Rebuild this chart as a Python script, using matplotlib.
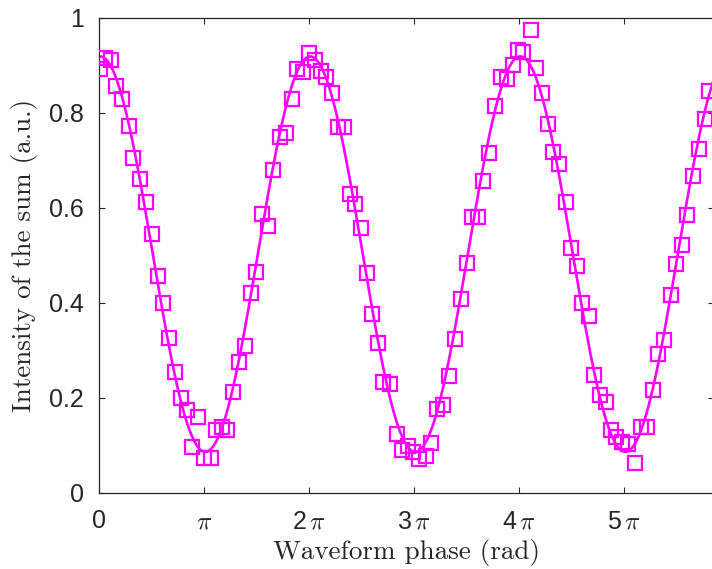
import numpy as np
import matplotlib
matplotlib.use("Agg")
import matplotlib.pyplot as plt

plt.rcParams['mathtext.fontset'] = 'cm'
plt.rcParams['font.family'] = ['Liberation Sans', 'DejaVu Sans']

# measured phase (rad) and intensity
phase = [0.021, 0.156, 0.350, 0.500, 0.688, 0.889, 1.017, 1.218, 1.388, 1.568,
         1.747, 1.915, 2.085, 2.265, 2.444, 2.615, 2.783, 2.962, 3.133, 3.333,
         3.492, 3.662, 3.812, 4.009, 4.180, 4.359, 4.530, 4.680, 4.868, 5.039,
         5.206, 5.407, 5.577, 5.757, 5.906, 6.104, 6.274, 6.454, 6.624, 6.783,
         6.953, 7.151, 7.321, 7.501, 7.651, 7.830, 8.019, 8.168, 8.348, 8.497,
         8.698, 8.898, 9.048, 9.245, 9.395, 9.566, 9.766, 9.916, 10.095, 10.293,
         10.463, 10.643, 10.813, 10.993, 11.142, 11.322, 11.489, 11.669, 11.839, 12.019,
         12.189, 12.369, 12.537, 12.686, 12.908, 13.057, 13.237, 13.416, 13.566, 13.763,
         13.955, 14.104, 14.284, 14.451, 14.652, 14.811, 14.981, 15.161, 15.310, 15.469,
         15.630, 15.810, 16.028, 16.199, 16.396, 16.558, 16.725, 16.905, 17.096, 17.255,
         17.444, 17.575, 17.773, 17.952, 18.123, 18.252]
intensity = [0.891, 0.915, 0.910, 0.856, 0.828, 0.772, 0.704, 0.660, 0.611, 0.545,
             0.457, 0.400, 0.325, 0.255, 0.200, 0.173, 0.096, 0.160, 0.072, 0.072,
             0.132, 0.139, 0.132, 0.211, 0.275, 0.309, 0.420, 0.465, 0.586, 0.561,
             0.679, 0.748, 0.757, 0.828, 0.891, 0.885, 0.925, 0.911, 0.888, 0.874,
             0.842, 0.769, 0.769, 0.629, 0.608, 0.558, 0.463, 0.376, 0.315, 0.234,
             0.228, 0.124, 0.090, 0.099, 0.086, 0.070, 0.078, 0.105, 0.176, 0.185,
             0.246, 0.324, 0.407, 0.483, 0.580, 0.581, 0.656, 0.715, 0.813, 0.874,
             0.870, 0.900, 0.931, 0.927, 0.973, 0.893, 0.842, 0.776, 0.717, 0.692,
             0.611, 0.514, 0.477, 0.400, 0.372, 0.248, 0.206, 0.190, 0.132, 0.118,
             0.106, 0.102, 0.062, 0.139, 0.138, 0.216, 0.292, 0.321, 0.416, 0.481,
             0.521, 0.585, 0.667, 0.724, 0.787, 0.846]

# cosine fit parameters
fit_offset = 0.502
fit_amplitude = 0.416
fit_phase = 0.03

xticks = [0, np.pi, 2*np.pi, 3*np.pi, 4*np.pi, 5*np.pi]
xticklabels = ['0', r'$\pi$', r'2$\,\pi$', r'3$\,\pi$', r'4$\,\pi$', r'5$\,\pi$']
yticks = [0, 0.2, 0.4, 0.6, 0.8, 1.0]
yticklabels = ['0', '0.2', '0.4', '0.6', '0.8', '1']

W, H = 712, 569
fig = plt.figure(figsize=(W/100, H/100), dpi=100)
x0, x1 = 99.3, 714.0
y0, y1 = 492.7, 17.5
ax = fig.add_axes([x0/W, 1 - y0/H, (x1-x0)/W, (y0-y1)/H])

xmax = (x1 - x0) / 105.0 * np.pi
xf = np.linspace(0, xmax, 800)
ax.plot(xf, fit_offset + fit_amplitude*np.cos(xf - fit_phase), color='#FF00FF', lw=1.9, zorder=2)
ax.plot(phase, intensity, linestyle='none', marker='s', markersize=9.5,
        markerfacecolor='none', markeredgecolor='#FF00FF', markeredgewidth=1.6, zorder=3)

ax.set_xlim(0, xmax)
ax.set_ylim(0, 1)
ax.set_xticks(xticks)
ax.set_xticklabels(xticklabels)
ax.set_yticks(yticks)
ax.set_yticklabels(yticklabels)
ax.tick_params(direction='in', length=4.5, width=0.8, colors='#262626',
               labelsize=18, top=True, right=True)
ax.tick_params(axis='x', pad=12)
ax.tick_params(axis='y', pad=11)
for s in ax.spines.values():
    s.set_color('#262626')
    s.set_linewidth(0.9)

ax.set_xlabel('Waveform phase (rad)', family='cmr10', fontsize=19.5, color='#262626', labelpad=4)
ax.set_ylabel('Intensity of the sum (a.u.)', family='cmr10', fontsize=19.5, color='#262626', labelpad=8)

fig.savefig('out.png', dpi=100)
